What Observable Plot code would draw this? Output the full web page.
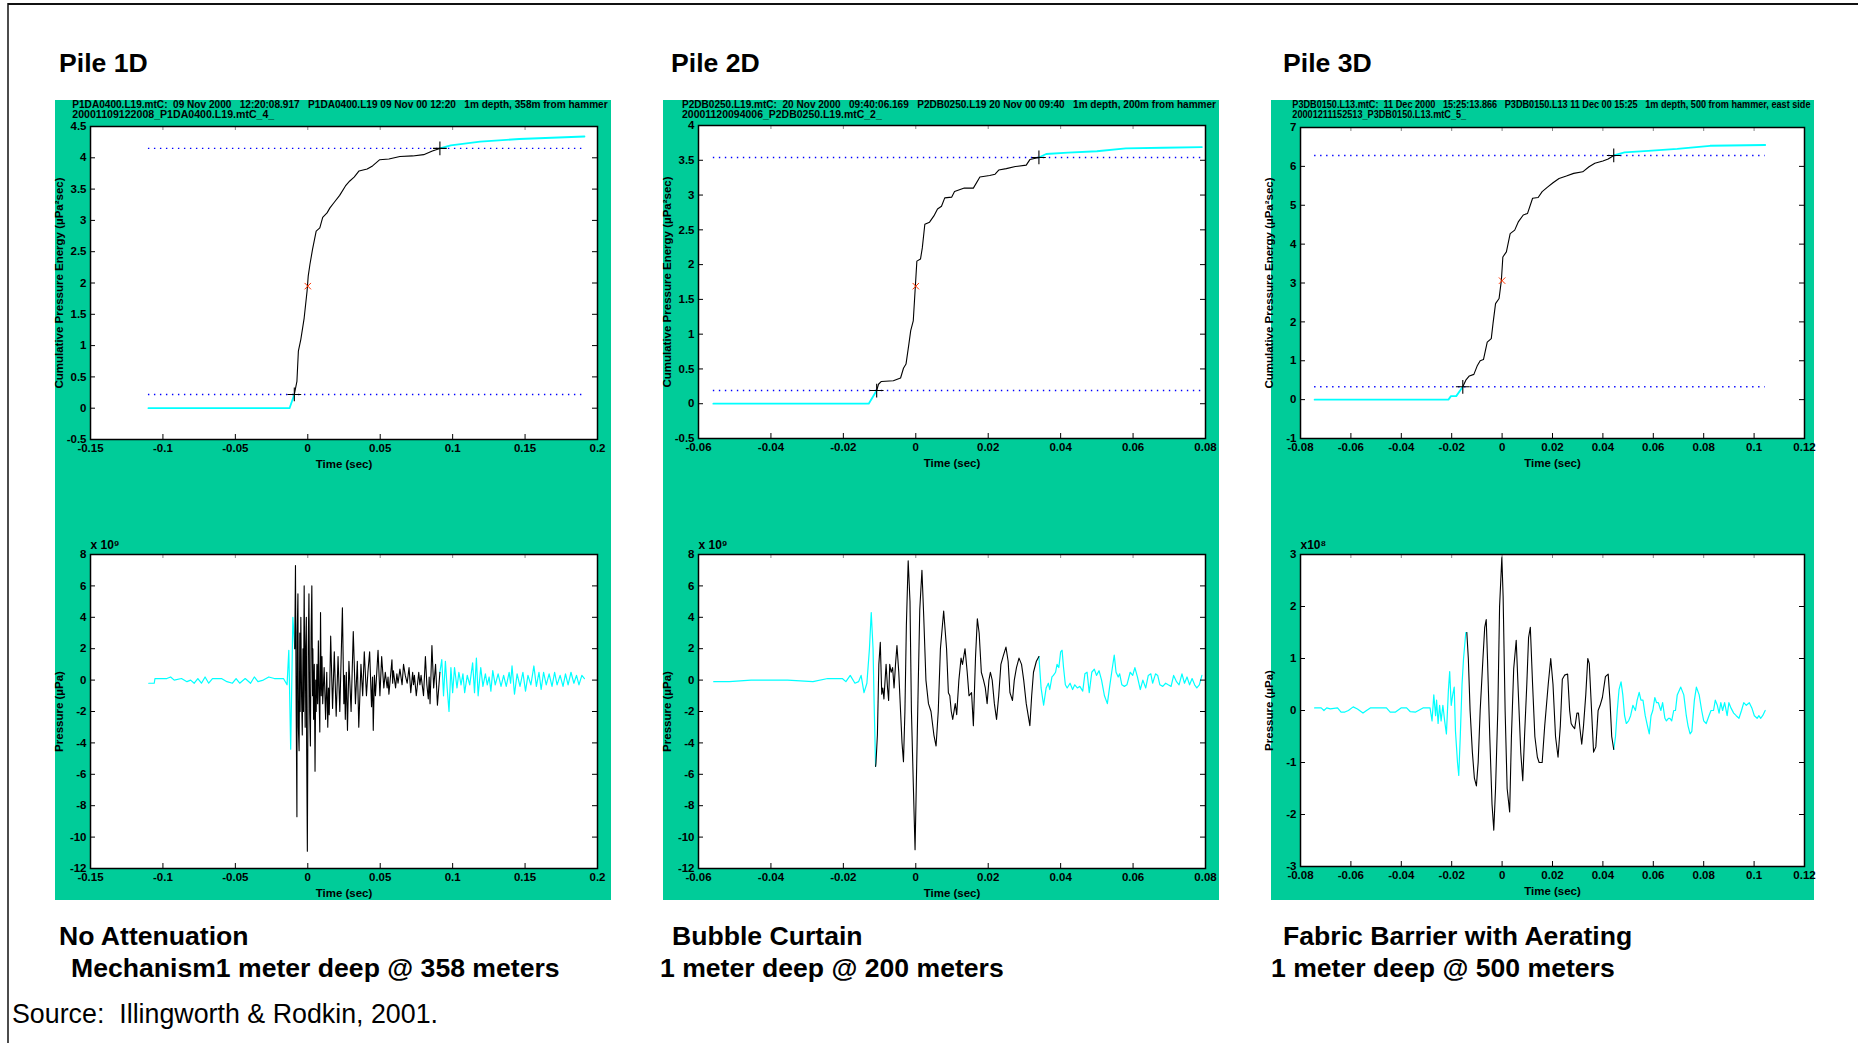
<!DOCTYPE html>
<html><head><meta charset="utf-8">
<script src="https://cdn.jsdelivr.net/npm/d3@7"></script>
<script src="https://cdn.jsdelivr.net/npm/@observablehq/plot@0.6"></script>
<style>
body{margin:0;background:#fff}
#page{position:relative;width:1858px;height:1043px;overflow:hidden;background:#fff}
</style></head><body><div id="page"></div>
<script>
// ---------------- text ----------------
const pileTitles = ["Pile 1D", "Pile 2D", "Pile 3D"];
const captionLine1 = ["No Attenuation", "Bubble Curtain", "Fabric Barrier with Aerating"];
const captionLine2 = ["Mechanism1 meter deep @ 358 meters", "1 meter deep @ 200 meters", "1 meter deep @ 500 meters"];
const sourceNote = "Source:  Illingworth & Rodkin, 2001.";
const headerLine1 = [
  "P1DA0400.L19.mtC:  09 Nov 2000   12:20:08.917   P1DA0400.L19 09 Nov 00 12:20   1m depth, 358m from hammer",
  "P2DB0250.L19.mtC:  20 Nov 2000   09:40:06.169   P2DB0250.L19 20 Nov 00 09:40   1m depth, 200m from hammer",
  "P3DB0150.L13.mtC:  11 Dec 2000   15:25:13.866   P3DB0150.L13 11 Dec 00 15:25   1m depth, 500 from hammer, east side"
];
const headerLine2 = ["20001109122008_P1DA0400.L19.mtC_4_", "20001120094006_P2DB0250.L19.mtC_2_", "20001211152513_P3DB0150.L13.mtC_5_"];
const energyLabel = "Cumulative Pressure Energy (µPa²sec)";
const pressureLabel = "Pressure (µPa)";
const timeLabel = "Time (sec)";
const pressureExponent = ["x 10⁹", "x 10⁹", "x10⁸"];

// ---------------- ticks ----------------
const p1XTicks = [-0.15, -0.1, -0.05, 0, 0.05, 0.1, 0.15, 0.2];
const p1XTickLabels = ["-0.15", "-0.1", "-0.05", "0", "0.05", "0.1", "0.15", "0.2"];
const p2XTicks = [-0.06, -0.04, -0.02, 0, 0.02, 0.04, 0.06, 0.08];
const p2XTickLabels = ["-0.06", "-0.04", "-0.02", "0", "0.02", "0.04", "0.06", "0.08"];
const p3XTicks = [-0.08, -0.06, -0.04, -0.02, 0, 0.02, 0.04, 0.06, 0.08, 0.1, 0.12];
const p3XTickLabels = ["-0.08", "-0.06", "-0.04", "-0.02", "0", "0.02", "0.04", "0.06", "0.08", "0.1", "0.12"];
const p1EnergyYTicks = [-0.5, 0, 0.5, 1, 1.5, 2, 2.5, 3, 3.5, 4, 4.5];
const p1EnergyYTickLabels = ["-0.5", "0", "0.5", "1", "1.5", "2", "2.5", "3", "3.5", "4", "4.5"];
const p2EnergyYTicks = [-0.5, 0, 0.5, 1, 1.5, 2, 2.5, 3, 3.5, 4];
const p2EnergyYTickLabels = ["-0.5", "0", "0.5", "1", "1.5", "2", "2.5", "3", "3.5", "4"];
const p3EnergyYTicks = [-1, 0, 1, 2, 3, 4, 5, 6, 7];
const p3EnergyYTickLabels = ["-1", "0", "1", "2", "3", "4", "5", "6", "7"];
const p12PressureYTicks = [-12, -10, -8, -6, -4, -2, 0, 2, 4, 6, 8];
const p12PressureYTickLabels = ["-12", "-10", "-8", "-6", "-4", "-2", "0", "2", "4", "6", "8"];
const p3PressureYTicks = [-3, -2, -1, 0, 1, 2, 3];
const p3PressureYTickLabels = ["-3", "-2", "-1", "0", "1", "2", "3"];

// ---------------- cumulative energy  [time ms, µPa²sec] ----------------
const p1EnergyPre = [[-110,0],[-12.6,0],[-9.3,0.22]];
const p1EnergyMain = [[-9.3,0.22],[-7.5,0.43],[-6.5,0.91],[-4.8,1.10],[-2.5,1.44],[-0.5,1.87],[0.3,2.11],[1.5,2.30],[3.3,2.54],[5.8,2.83],[8.3,2.88],[10.3,3.05],[13.3,3.12],[15.3,3.20],[18.3,3.29],[22.0,3.40],[26.0,3.55],[29.0,3.63],[32.0,3.69],[35.4,3.79],[41.0,3.82],[44.7,3.87],[49.7,3.97],[56.0,3.98],[63.6,4.02],[72.4,4.03],[80.0,4.05],[86.0,4.11],[91.2,4.15]];
const p1EnergyPost = [[91.2,4.15],[98.7,4.20],[119.0,4.26],[146.0,4.30],[191.0,4.34]];
const p1EnergyWindow = [[-9.3,0.22],[91.2,4.15]];
const p1EnergyCentre = [[0,1.95]];
const p1EnergyLevels = [0.22, 4.15];

const p2EnergyPre = [[-55.9,0],[-13.0,0],[-10.8,0.19]];
const p2EnergyMain = [[-10.8,0.19],[-10.3,0.28],[-9.5,0.32],[-6.2,0.33],[-4.2,0.37],[-3.4,0.51],[-2.7,0.57],[-1.9,0.86],[-1.4,1.05],[-0.7,1.19],[-0.2,1.62],[0.3,2.05],[1.3,2.08],[1.8,2.24],[2.5,2.58],[3.8,2.61],[5.0,2.70],[6.0,2.80],[7.1,2.84],[8.0,2.96],[9.9,2.97],[10.7,3.05],[13.4,3.10],[15.9,3.10],[17.7,3.26],[20.4,3.28],[21.9,3.30],[22.9,3.36],[25.0,3.38],[27.5,3.41],[30.5,3.43],[31.5,3.51],[34.0,3.54]];
const p2EnergyPost = [[34.0,3.54],[36.0,3.59],[42.0,3.61],[50.0,3.63],[58.0,3.67],[68.3,3.68],[79.0,3.69]];
const p2EnergyWindow = [[-10.8,0.19],[34.0,3.54]];
const p2EnergyCentre = [[0,1.69]];
const p2EnergyLevels = [0.19, 3.54];

const p3EnergyPre = [[-74.4,0],[-21.3,0],[-20.3,0.09],[-18.2,0.09],[-15.6,0.33]];
const p3EnergyMain = [[-15.6,0.33],[-14.4,0.5],[-13.0,0.61],[-11.2,0.65],[-9.8,0.88],[-8.7,1.0],[-7.4,1.03],[-5.9,1.48],[-4.3,1.57],[-3.6,1.96],[-2.6,2.47],[-1.2,2.60],[-0.3,3.06],[0.3,3.67],[1.7,3.80],[3.2,4.27],[5.0,4.36],[6.5,4.58],[8.4,4.75],[10.1,4.79],[12.1,5.18],[14.3,5.20],[15.9,5.35],[17.9,5.46],[20.2,5.58],[22.6,5.69],[25.5,5.75],[28.4,5.82],[32.0,5.86],[34.5,5.99],[36.8,6.08],[40.0,6.14],[42.1,6.19],[44.3,6.28]];
const p3EnergyPost = [[44.3,6.28],[48.6,6.36],[58.0,6.40],[69.5,6.45],[82.5,6.53],[104.4,6.55]];
const p3EnergyWindow = [[-15.6,0.33],[44.3,6.28]];
const p3EnergyCentre = [[0,3.06]];
const p3EnergyLevels = [0.33, 6.28];

// ---------------- pressure waveforms  [time ms, pressure in axis units] ----------------
const p1WavePre = [[-109.8,-0.2],[-106.0,-0.2],[-105.5,0.1],[-102.3,0.1],[-97.3,0.1],[-94.7,0.2],[-92.2,0.0],[-87.2,0.1],[-83.4,-0.1],[-80.9,0.0],[-78.4,-0.2],[-75.9,0.1],[-73.4,-0.2],[-70.9,0.2],[-68.4,-0.2],[-65.8,0.1],[-59.6,0.1],[-55.8,-0.1],[-52.0,-0.2],[-49.5,0.1],[-47.0,-0.2],[-43.2,0.1],[-39.5,-0.2],[-36.9,0.2],[-34.4,-0.1],[-30.7,0.0],[-26.9,0.2],[-23.1,0.1],[-16.8,0.1],[-14.3,-0.3],[-13.1,1.9],[-11.8,-4.4],[-10.3,4.0],[-9.0,2.0]];
const p1WaveMain = [[-9.0,2.0],[-8.5,7.3],[-8.0,-2],[-7.5,-8.7],[-7.3,3],[-6.8,5.5],[-6.5,-3],[-6.0,-4.5],[-5.5,3],[-5.3,-2],[-4.8,4.0],[-4.3,-1],[-3.8,-3.5],[-3.3,2],[-3.0,-2],[-2.5,6.0],[-2.0,-1],[-1.8,-3.0],[-1.5,2],[-1.0,4.0],[-0.8,-4],[-0.3,-10.9],[0.3,2],[0.8,5.5],[1.3,-2],[1.8,-4.2],[2.3,3],[2.8,6.0],[3.3,-1],[3.5,2],[4.0,-2.5],[4.5,1],[5.0,-5.8],[5.5,0],[5.8,-2],[6.3,1.0],[6.8,-1.5],[7.3,2.5],[7.8,-1],[8.3,-3.3],[8.8,4.3],[9.3,-1],[9.8,1.5],[10.3,-1.5],[11.3,0.8],[12.3,-2.5],[13.1,0.5],[13.8,-3.0],[14.3,-0.5],[14.8,-2.2],[15.8,2.8],[17.1,-1.8],[18.3,1.8],[19.6,-2.3],[20.9,1.5],[22.1,-2.0],[23.9,4.6],[24.9,-1.5],[25.4,0.3],[25.9,-2.5],[26.6,0.5],[27.4,-3.2],[28.4,1.2],[29.9,-2.0],[31.4,3.1],[32.9,-1.5],[34.2,1.2],[35.2,-3.0],[36.7,1.0],[37.9,-1.0],[39.0,1.8],[40.5,-1.0],[41.5,0.5],[42.7,1.8],[44.0,-1.7],[44.7,0.2],[45.2,-3.2],[46.0,0.3],[46.7,-1.0],[48.5,1.9],[49.8,-1.0],[51.0,1.5],[52.5,-0.5],[53.5,0.5],[54.8,-0.5],[55.4,0.2],[56.0,-0.9],[58.1,1.3],[58.6,-0.2],[59.1,0.6],[60.6,-0.5],[61.5,0.4],[62.3,-0.2],[63.6,0.7],[65.1,-0.3],[66.1,1.0],[67.3,0.3],[68.6,-0.2],[69.9,0.8],[71.1,-0.8],[72.4,0.5],[73.0,-0.3],[73.6,0.3],[74.9,-1.0],[76.6,0.5],[77.4,-0.3],[78.2,0.3],[79.9,-1.0],[81.2,1.5],[82.2,-0.3],[83.2,-1.2],[83.8,0.2],[84.4,-1.5],[85.7,2.2],[86.9,-0.5],[88.2,1.0],[89.5,-1.6],[91.2,0.5]];
const p1WavePost = [[91.2,0.5],[92.5,1.3],[93.7,-1.0],[95.0,1.2],[96.2,-0.5],[97.5,-2.0],[98.8,0.8],[100.0,-0.8],[101.3,0.8],[103.0,-0.5],[104.3,0.5],[105.8,-0.3],[107.1,0.4],[108.3,-0.8],[110.1,0.3],[111.8,-0.3],[113.8,1.1],[115.1,-0.8],[116.4,1.4],[117.6,-1.0],[119.4,0.8],[120.9,-0.4],[122.6,0.4],[123.9,-0.3],[125.2,0.2],[126.4,-0.7],[127.7,0.6],[129.4,-0.3],[131.4,0.4],[133.4,-0.4],[135.2,0.3],[137.0,-0.4],[139.0,0.5],[140.0,-0.2],[141.0,0.9],[142.7,-0.9],[144.5,0.4],[146.5,-0.4],[148.5,0.5],[150.3,-0.7],[152.0,0.3],[154.0,-0.3],[156.1,0.9],[157.8,-0.4],[159.6,0.5],[161.1,-0.6],[162.8,0.5],[164.6,-0.3],[166.6,0.4],[168.6,-0.4],[170.4,0.5],[172.1,-0.3],[174.2,0.3],[176.2,-0.4],[177.9,0.4],[179.7,-0.3],[181.7,0.5],[183.7,-0.2],[185.5,0.3],[187.2,-0.3],[189.2,0.3],[191.0,0.1]];

const p2WavePre = [[-55.8,-0.1],[-51.5,-0.1],[-45.5,0.0],[-40.4,0.0],[-35.4,0.0],[-28.4,-0.1],[-24.3,0.1],[-20.3,0.1],[-19.3,-0.1],[-18.1,0.3],[-16.8,-0.2],[-15.8,-0.1],[-15.1,0.3],[-14.3,-0.8],[-13.5,-0.2],[-12.8,2.0],[-12.3,4.3],[-11.8,2.0],[-11.5,-1.5],[-11.1,-5.5]];
const p2WaveMain = [[-11.1,-5.5],[-11.0,-5.3],[-10.6,-3.5],[-10.2,1.0],[-9.8,2.4],[-9.4,-0.9],[-9.1,-0.5],[-8.8,-1.2],[-8.2,1.0],[-7.8,-0.5],[-7.5,-1.3],[-7.2,1.0],[-6.8,0.5],[-6.4,0.8],[-6.0,-0.5],[-5.6,1.0],[-5.2,2.2],[-4.7,0.5],[-4.2,-2.0],[-3.8,-4.0],[-3.4,-5.2],[-3.0,-2.0],[-2.6,3.5],[-2.1,7.6],[-1.6,5.0],[-1.2,-2.0],[-0.7,-6.5],[-0.2,-10.8],[0.2,-6.0],[0.7,0.0],[1.1,4.5],[1.7,7.0],[2.2,4.0],[2.8,0.0],[3.5,-1.5],[4.2,-2.0],[5.0,-3.5],[5.6,-4.2],[6.2,-2.0],[6.8,2.0],[7.7,4.4],[8.5,2.0],[9.0,-0.8],[9.4,-1.0],[9.8,-2.0],[10.2,-2.5],[10.9,-1.5],[11.3,-2.2],[11.9,0.0],[12.5,1.4],[12.9,1.0],[13.6,2.0],[14.2,0.5],[14.7,-1.0],[15.4,-0.8],[15.9,-2.9],[16.5,1.5],[17.0,3.9],[17.5,3.0],[18.1,0.5],[18.7,0.0],[19.2,-0.5],[19.7,-1.5],[20.2,0.0],[20.6,0.5],[21.1,0.0],[21.7,-1.5],[22.3,-2.5],[22.9,-1.0],[23.5,1.0],[24.1,1.5],[24.9,2.1],[25.5,1.2],[26.0,-0.8],[26.7,-1.3],[27.2,0.0],[27.8,0.8],[28.5,1.4],[29.2,1.0],[29.8,0.0],[30.5,-1.5],[31.5,-2.9],[32.0,-1.0],[32.5,0.5],[33.3,1.2],[34.0,1.5]];
const p2WavePost = [[34.0,1.5],[34.6,-0.5],[35.3,-1.6],[36.0,-0.5],[36.6,-0.2],[37.0,-0.6],[37.6,0.2],[38.0,0.3],[38.6,0.5],[39.0,1.0],[39.5,0.8],[40.0,1.8],[40.4,1.9],[40.8,0.8],[41.3,-0.3],[41.8,-0.5],[42.6,-0.2],[43.3,-0.6],[43.9,-0.3],[44.6,-0.5],[45.3,-0.4],[46.1,-0.7],[46.7,0.4],[47.3,0.5],[47.9,-0.8],[48.6,0.5],[49.3,0.7],[49.9,0.3],[50.6,0.6],[51.3,0.0],[52.1,-1.0],[52.9,-1.5],[53.6,-0.3],[54.1,0.5],[54.8,1.6],[55.3,0.5],[55.9,0.2],[56.3,0.4],[56.9,-0.3],[57.6,-0.4],[58.3,-0.3],[59.2,0.5],[59.9,0.3],[60.5,0.8],[61.2,0.2],[62.0,-0.6],[62.7,0.0],[63.5,-0.5],[64.2,0.3],[64.9,0.4],[65.4,-0.2],[66.2,0.4],[66.8,0.3],[67.4,-0.3],[68.2,-0.4],[69.0,-0.2],[69.7,-0.3],[70.5,-0.4],[71.2,0.3],[72.0,-0.1],[72.7,-0.3],[73.5,0.4],[74.2,-0.2],[74.9,0.2],[75.6,-0.3],[76.3,0.1],[77.0,-0.3],[77.6,-0.5],[78.3,-0.3],[79.0,0.3]];

const p3WavePre = [[-74.4,0.05],[-71.8,0.05],[-70.7,0.0],[-69.6,0.05],[-68.2,0.03],[-65.3,0.05],[-63.9,-0.03],[-62.4,-0.03],[-61.0,0.0],[-59.1,0.07],[-57.4,0.03],[-55.2,-0.05],[-53.8,0.0],[-52.3,0.05],[-48.7,0.05],[-45.9,0.05],[-44.4,-0.03],[-42.3,-0.03],[-40.1,0.05],[-37.9,0.05],[-36.5,-0.02],[-34.3,-0.03],[-31.4,0.05],[-28.6,0.05],[-27.8,-0.2],[-27.1,0.3],[-26.4,-0.1],[-26.0,0.2],[-25.4,-0.25],[-24.8,0.1],[-24.2,-0.2],[-23.5,0.1],[-22.8,-0.2],[-22.1,-0.45],[-21.3,0.4],[-20.8,0.75],[-20.2,0.1],[-19.6,0.3],[-19.0,0.45],[-18.5,-0.4],[-17.7,-1.0],[-17.2,-1.25],[-16.6,-0.5],[-15.9,0.5],[-15.3,1.0],[-14.4,1.5],[-14.0,1.5]];
const p3WaveMain = [[-14.0,1.5],[-13.4,1.0],[-12.7,0.0],[-11.8,-0.8],[-11.0,-1.3],[-10.2,-1.45],[-9.5,-1.0],[-8.7,0.0],[-7.6,1.0],[-6.9,1.6],[-6.3,1.75],[-5.8,1.0],[-4.9,-0.5],[-4.0,-1.8],[-3.3,-2.3],[-2.6,-1.5],[-1.7,0.0],[-1.0,2.0],[-0.1,2.95],[0.4,2.2],[1.2,0.0],[2.0,-1.5],[3.0,-1.95],[3.7,-0.5],[4.6,0.8],[5.6,1.35],[6.3,0.5],[7.4,-0.8],[8.2,-1.35],[8.9,-0.5],[9.8,0.5],[10.5,1.4],[11.2,1.6],[12.1,0.5],[13.0,-0.5],[14.0,-0.9],[14.7,-1.0],[15.9,-1.0],[16.9,-0.3],[18.3,0.5],[19.3,1.0],[20.2,0.5],[21.2,-0.5],[22.2,-0.9],[23.1,-0.3],[23.9,0.6],[24.8,0.68],[26.0,0.7],[26.8,0.0],[27.4,-0.25],[28.0,-0.3],[28.8,-0.35],[29.7,-0.05],[30.3,-0.05],[30.9,-0.35],[31.6,-0.65],[32.3,-0.3],[33.2,0.3],[34.0,1.0],[34.6,0.9],[35.5,0.0],[36.3,-0.8],[37.2,-0.7],[38.1,0.0],[38.9,0.1],[39.8,0.25],[41.0,0.65],[42.1,0.7],[42.8,0.2],[43.5,-0.5],[44.3,-0.75]];
const p3WavePost = [[44.3,-0.75],[45.0,-0.5],[45.7,0.0],[46.4,0.4],[47.2,0.55],[47.9,0.3],[48.6,-0.1],[49.3,-0.25],[50.2,-0.2],[51.0,-0.1],[51.9,0.1],[52.9,0.0],[53.6,0.2],[54.4,0.35],[55.1,0.2],[55.9,0.2],[56.8,-0.1],[57.7,-0.3],[58.4,-0.45],[59.1,-0.1],[59.8,0.0],[60.6,0.25],[61.3,0.15],[62.0,0.15],[63.0,0.0],[63.7,0.15],[64.6,-0.15],[65.2,-0.2],[66.0,-0.15],[66.6,-0.15],[67.3,-0.2],[68.1,0.0],[68.8,0.0],[69.5,0.3],[70.9,0.45],[72.1,0.3],[73.1,-0.1],[73.8,-0.3],[74.6,-0.45],[75.3,-0.4],[76.3,0.2],[77.1,0.45],[78.2,0.3],[79.2,0.0],[80.0,-0.2],[81.0,-0.25],[82.1,-0.1],[82.9,0.0],[83.9,0.0],[84.6,0.2],[85.4,0.1],[86.1,-0.05],[86.8,0.15],[87.5,0.0],[88.3,0.15],[89.3,-0.1],[90.0,0.15],[90.8,0.05],[91.9,-0.05],[92.9,-0.1],[94.0,-0.15],[95.0,0.0],[95.9,0.15],[96.9,0.1],[98.1,0.15],[99.1,0.05],[100.1,-0.1],[101.2,-0.15],[101.9,-0.1],[102.6,-0.15],[103.4,-0.1],[104.4,0.0]];

// ---------------- layout ----------------
const FONT = "'Liberation Sans', Arial, Helvetica, sans-serif";
const GREEN = "#00CC99", CYAN = "#00FFFF";
const greenBoxes = [[55,100,611,900],[663,100,1219,900],[1271,100,1814,900]];
const headerX = [72.3, 682, 1292.3];
const headerLen1 = [536, 535, 519];
const headerLen2 = [202, 200, 174];
const headingX = [59, 671, 1283];
const capX1 = [59, 672, 1283];
const capX2 = [71, 660, 1271];
const topFrames = [[90,126,597,439],[698,125,1205,438],[1300,127,1804,438]];
const botFrames = [[90,554,597,868],[698,554,1205,868],[1300,554,1804,866]];
const ML = 62, MR = 24, MT = 24, MB = 42;

const page = d3.select("#page");
const bg = page.append("svg").attr("width", 1858).attr("height", 1043)
  .style("position", "absolute").style("left", "0px").style("top", "0px")
  .style("font-family", FONT);

// border
bg.append("line").attr("x1", 8).attr("x2", 1858).attr("y1", 4).attr("y2", 4).attr("stroke", "#111").attr("stroke-width", 2);
bg.append("line").attr("x1", 8).attr("x2", 8).attr("y1", 3).attr("y2", 1043).attr("stroke", "#111").attr("stroke-width", 1.5);

// a text squeezed horizontally to a target width
function squeezed(parent, str, x, y, target) {
  const t = parent.append("text").attr("xml:space", "preserve").style("white-space", "pre")
    .style("font-weight", "bold").style("font-size", "10px").text(str);
  const natural = t.node().getComputedTextLength() || target;
  t.attr("transform", `translate(${x},${y}) scale(${target / natural},1)`);
  return t;
}

greenBoxes.forEach((b, i) => {
  bg.append("rect").attr("x", b[0]).attr("y", b[1]).attr("width", b[2]-b[0]).attr("height", b[3]-b[1]).attr("fill", GREEN);
  squeezed(bg, headerLine1[i], headerX[i], 107.5, headerLen1[i]);
  squeezed(bg, headerLine2[i], headerX[i], 117.5, headerLen2[i]);
  bg.append("text").attr("x", headingX[i]).attr("y", 72).style("font-weight", "bold").style("font-size", "26.6px").text(pileTitles[i]);
  bg.append("text").attr("x", capX1[i]).attr("y", 945).style("font-weight", "bold").style("font-size", "26.6px").text(captionLine1[i]);
  bg.append("text").attr("x", capX2[i]).attr("y", 977).style("font-weight", "bold").style("font-size", "26.6px").text(captionLine2[i]);
});
bg.append("text").attr("xml:space", "preserve").style("white-space", "pre")
  .attr("x", 12).attr("y", 1023).style("font-size", "26.8px").text(sourceNote);

const ms = d => d[0] / 1000;
const val = d => d[1];

function chart(frame, spec) {
  const [x0, y0, x1, y1] = frame;
  const W = x1 - x0, H = y1 - y0;
  const xFmt = new Map(spec.xTicks.map((v, i) => [v, spec.xLabels[i]]));
  const yFmt = new Map(spec.yTicks.map((v, i) => [v, spec.yLabels[i]]));
  const svg = Plot.plot({
    width: W + ML + MR, height: H + MT + MB,
    marginLeft: ML, marginRight: MR, marginTop: MT, marginBottom: MB,
    x: {domain: spec.xDomain},
    y: {domain: spec.yDomain},
    style: {background: "transparent", fontFamily: FONT, fontSize: "11px", fontWeight: "bold", color: "black", overflow: "visible"},
    marks: [
      Plot.frame({fill: "white", stroke: "none"}),
      ...spec.marks,
      Plot.tickX(spec.xTicks, {x: d => d, insetTop: H - 5, stroke: "black"}),
      Plot.tickX(spec.xTicks, {x: d => d, insetBottom: H - 4, stroke: "#888"}),
      Plot.tickY(spec.yTicks, {y: d => d, insetRight: W - 5, stroke: "black"}),
      Plot.tickY(spec.yTicks, {y: d => d, insetLeft: W - 5, stroke: "black"}),
      Plot.axisX({ticks: spec.xTicks, tickFormat: d => xFmt.get(d), tickSize: 0, tickPadding: 4, label: null, fontSize: 11.5}),
      Plot.axisY({ticks: spec.yTicks, tickFormat: d => yFmt.get(d), tickSize: 0, tickPadding: 4, label: null, fontSize: 11.5}),
      Plot.text([timeLabel], {frameAnchor: "bottom", dy: 25, text: d => d, textAnchor: "middle", lineAnchor: "middle", fontSize: 11.5, fontWeight: "bold"}),
      Plot.text([spec.yTitle], {frameAnchor: "left", dx: -31, rotate: -90, text: d => d, textAnchor: "middle", lineAnchor: "middle", fontSize: 11.5, fontWeight: "bold"}),
      spec.exponent ? Plot.text([spec.exponent], {frameAnchor: "top-left", dy: -9, text: d => d, textAnchor: "start", lineAnchor: "middle", fontSize: 12, fontWeight: "bold"}) : null,
      Plot.frame({stroke: "black", strokeWidth: 1.5})
    ]
  });
  svg.style.position = "absolute";
  svg.style.left = (x0 - ML) + "px";
  svg.style.top = (y0 - MT) + "px";
  svg.style.maxWidth = "none";
  page.node().appendChild(svg);
}

function energyMarks(pre, main, post, windowPts, centre, levels) {
  const t1 = pre[0][0] / 1000, t2 = post[post.length - 1][0] / 1000;
  return [
    Plot.ruleY(levels, {y: d => d, x1: t1, x2: t2, stroke: "#0000FF", strokeWidth: 1.4, strokeDasharray: "1.4,4.6"}),
    Plot.line(pre, {x: ms, y: val, stroke: CYAN, strokeWidth: 1.8}),
    Plot.line(post, {x: ms, y: val, stroke: CYAN, strokeWidth: 1.8}),
    Plot.line(main, {x: ms, y: val, stroke: "black", strokeWidth: 1.1}),
    Plot.dot(windowPts, {x: ms, y: val, symbol: "plus", r: 4.5, stroke: "black", strokeWidth: 1.1}),
    Plot.dot(centre, {x: ms, y: val, symbol: "times", r: 3, stroke: "#FF3300", strokeWidth: 1})
  ];
}
function waveMarks(pre, main, post) {
  return [
    Plot.line(pre, {x: ms, y: val, stroke: CYAN, strokeWidth: 1.2}),
    Plot.line(post, {x: ms, y: val, stroke: CYAN, strokeWidth: 1.2}),
    Plot.line(main, {x: ms, y: val, stroke: "black", strokeWidth: 1.1})
  ];
}

chart(topFrames[0], {xDomain: [-0.15, 0.2], yDomain: [-0.5, 4.5], xTicks: p1XTicks, xLabels: p1XTickLabels, yTicks: p1EnergyYTicks, yLabels: p1EnergyYTickLabels, yTitle: energyLabel,
  marks: energyMarks(p1EnergyPre, p1EnergyMain, p1EnergyPost, p1EnergyWindow, p1EnergyCentre, p1EnergyLevels)});
chart(topFrames[1], {xDomain: [-0.06, 0.08], yDomain: [-0.5, 4], xTicks: p2XTicks, xLabels: p2XTickLabels, yTicks: p2EnergyYTicks, yLabels: p2EnergyYTickLabels, yTitle: energyLabel,
  marks: energyMarks(p2EnergyPre, p2EnergyMain, p2EnergyPost, p2EnergyWindow, p2EnergyCentre, p2EnergyLevels)});
chart(topFrames[2], {xDomain: [-0.08, 0.12], yDomain: [-1, 7], xTicks: p3XTicks, xLabels: p3XTickLabels, yTicks: p3EnergyYTicks, yLabels: p3EnergyYTickLabels, yTitle: energyLabel,
  marks: energyMarks(p3EnergyPre, p3EnergyMain, p3EnergyPost, p3EnergyWindow, p3EnergyCentre, p3EnergyLevels)});

chart(botFrames[0], {xDomain: [-0.15, 0.2], yDomain: [-12, 8], xTicks: p1XTicks, xLabels: p1XTickLabels, yTicks: p12PressureYTicks, yLabels: p12PressureYTickLabels, yTitle: pressureLabel, exponent: pressureExponent[0],
  marks: waveMarks(p1WavePre, p1WaveMain, p1WavePost)});
chart(botFrames[1], {xDomain: [-0.06, 0.08], yDomain: [-12, 8], xTicks: p2XTicks, xLabels: p2XTickLabels, yTicks: p12PressureYTicks, yLabels: p12PressureYTickLabels, yTitle: pressureLabel, exponent: pressureExponent[1],
  marks: waveMarks(p2WavePre, p2WaveMain, p2WavePost)});
chart(botFrames[2], {xDomain: [-0.08, 0.12], yDomain: [-3, 3], xTicks: p3XTicks, xLabels: p3XTickLabels, yTicks: p3PressureYTicks, yLabels: p3PressureYTickLabels, yTitle: pressureLabel, exponent: pressureExponent[2],
  marks: waveMarks(p3WavePre, p3WaveMain, p3WavePost)});
</script>
</body></html>
